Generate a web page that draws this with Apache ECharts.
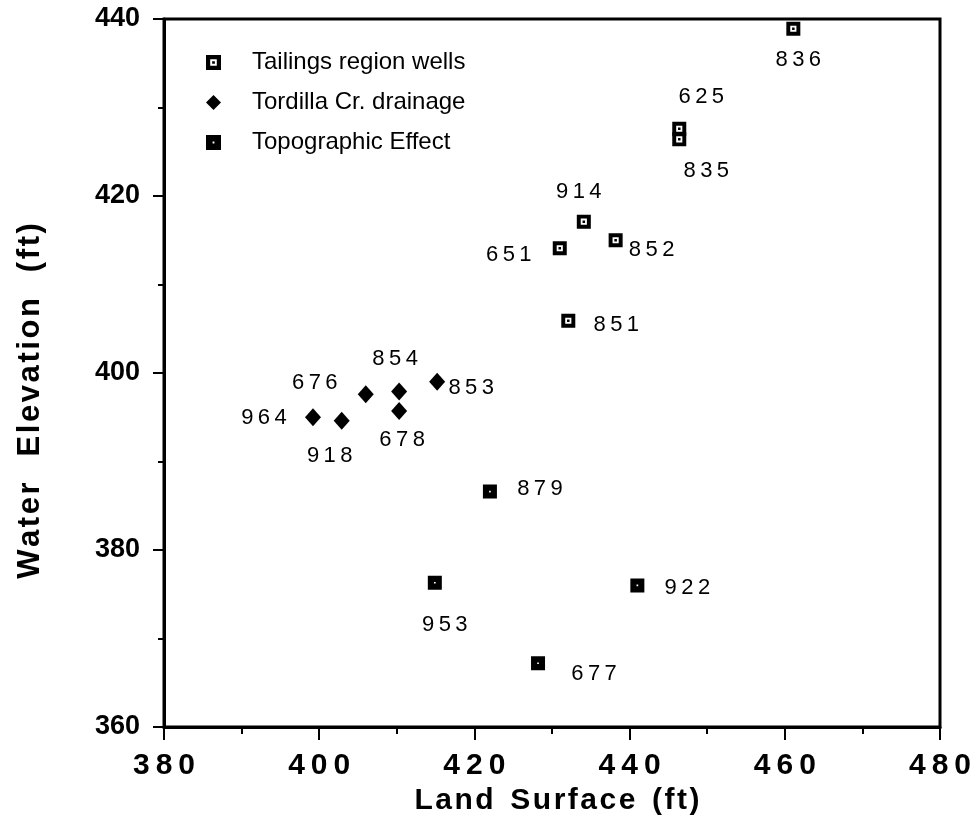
<!DOCTYPE html>
<html>
<head>
<meta charset="utf-8">
<script src="https://cdn.jsdelivr.net/npm/echarts@6/dist/echarts.min.js"></script>
<style>
  html, body { margin: 0; padding: 0; background: #fff; }
  #chart { width: 980px; height: 832px; }
</style>
</head>
<body>
<div id="chart"></div>
<script>
// values
var seriesNames = ['Tailings region wells', 'Tordilla Cr. drainage', 'Topographic Effect'];

var tailingsWells = ['836', '625', '835', '914', '651', '852', '851'];
var tailingsLand  = [461.1, 446.4, 446.4, 434.1, 431.0, 438.2, 432.1];
var tailingsWater = [438.9, 427.6, 426.4, 417.1, 414.1, 415.0, 405.9];

var tordillaWells = ['964', '918', '676', '854', '678', '853'];
var tordillaLand  = [399.2, 402.9, 406.0, 410.3, 410.3, 415.2];
var tordillaWater = [395.0, 394.6, 397.6, 397.9, 395.7, 399.0];

var topoWells = ['879', '953', '922', '677'];
var topoLand  = [422.0, 414.9, 441.0, 428.2];
var topoWater = [386.6, 376.3, 376.0, 367.2];

var xTicks = [380, 400, 420, 440, 460, 480];
var yTicks = [360, 380, 400, 420, 440];

// where each well number sits relative to its marker (px)
var labelOffset = {
    '836': [5, 31], '625': [22, -32], '835': [27, 32], '914': [-5, -30],
    '651': [-51, 7], '852': [36, 10], '851': [48, 4],
    '964': [-49, 1], '918': [-12, 35], '676': [-51, -11], '854': [-4, -33],
    '678': [3, 29], '853': [34, 6],
    '879': [50, -3], '953': [10, 42], '922': [50, 3], '677': [56, 11]
};

var FONT = '"Liberation Sans", Arial, Helvetica, sans-serif';

function spaced(s, sp) {
    return String(s).split('').join(sp);
}

function points(names, xs, ys) {
    return names.map(function (n, i) {
        return {
            name: n,
            value: [xs[i], ys[i]],
            label: { offset: labelOffset[n] }
        };
    });
}

// open square with a dot in the middle
var OPEN_SQ = 'path://M0,0H10V10H0Z M2.8,2.8V7.2H7.2V2.8Z M4.1,4.1H5.9V5.9H4.1Z';
// solid square with a pin-hole
var SOLID_SQ = 'path://M0,0H10V10H0Z M4.4,4.4V5.6H5.6V4.4Z';

var wellLabel = {
    show: true,
    position: 'inside',
    color: '#000',
    fontFamily: FONT,
    fontSize: 22,
    formatter: function (p) { return spaced(p.name, '\u2009'); }
};

var chart = echarts.init(document.getElementById('chart'));

var option = {
    backgroundColor: '#fff',
    animation: false,
    grid: {
        left: 164,
        right: 40,
        top: 19,
        bottom: 105,
        show: true,
        borderColor: '#000',
        borderWidth: 3
    },
    legend: {
        orient: 'vertical',
        left: 201,
        top: 43,
        itemWidth: 15,
        itemHeight: 15,
        itemGap: 11,
        data: seriesNames,
        textStyle: {
            color: '#000',
            fontFamily: FONT,
            fontSize: 24,
            lineHeight: 29,
            padding: [0, 0, 0, 26]
        }
    },
    xAxis: {
        type: 'value',
        min: 380,
        max: 480,
        interval: 20,
        name: spaced('Land', '\u200A') + '  ' + spaced('Surface', '\u200A') + '  ' + spaced('(ft)', '\u200A'),
        nameLocation: 'middle',
        nameGap: 58,
        nameTextStyle: {
            color: '#000',
            fontFamily: FONT,
            fontWeight: 'bold',
            fontSize: 30,
            padding: [0, 0, 0, 10]
        },
        axisLine: { lineStyle: { color: '#000', width: 3 } },
        axisTick: { length: 13, lineStyle: { color: '#000', width: 2 } },
        minorTick: { show: true, splitNumber: 2, length: 7, lineStyle: { color: '#000', width: 2 } },
        splitLine: { show: false },
        axisLabel: {
            margin: 24,
            color: '#000',
            fontFamily: FONT,
            fontWeight: 'bold',
            fontSize: 30,
            formatter: function (v) { return xTicks.indexOf(v) >= 0 ? spaced(v, '\u2009') : ''; }
        }
    },
    yAxis: {
        type: 'value',
        min: 360,
        max: 440,
        interval: 20,
        name: spaced('Water', '\u200A') + '   ' + spaced('Elevation', '\u200A') + '   ' + spaced('(ft)', '\u200A'),
        nameLocation: 'middle',
        nameRotate: 90,
        nameGap: 118,
        nameTextStyle: {
            color: '#000',
            fontFamily: FONT,
            fontWeight: 'bold',
            fontSize: 31,
            padding: [0, 56, 0, 0]
        },
        axisLine: { lineStyle: { color: '#000', width: 3 } },
        axisTick: { length: 11, lineStyle: { color: '#000', width: 2 } },
        minorTick: { show: true, splitNumber: 2, length: 6, lineStyle: { color: '#000', width: 2 } },
        splitLine: { show: false },
        axisLabel: {
            margin: 24,
            color: '#000',
            fontFamily: FONT,
            fontWeight: 'bold',
            fontSize: 27,
            formatter: function (v) { return yTicks.indexOf(v) >= 0 ? String(v) : ''; }
        }
    },
    series: [
        {
            name: seriesNames[0],
            type: 'scatter',
            symbol: OPEN_SQ,
            symbolSize: 14,
            itemStyle: { color: '#000', opacity: 1 },
            label: wellLabel,
            data: points(tailingsWells, tailingsLand, tailingsWater)
        },
        {
            name: seriesNames[1],
            type: 'scatter',
            symbol: 'diamond',
            symbolSize: [16, 18],
            itemStyle: { color: '#000', opacity: 1 },
            label: wellLabel,
            data: points(tordillaWells, tordillaLand, tordillaWater)
        },
        {
            name: seriesNames[2],
            type: 'scatter',
            symbol: SOLID_SQ,
            symbolSize: 14,
            itemStyle: { color: '#000', opacity: 1 },
            label: wellLabel,
            data: points(topoWells, topoLand, topoWater)
        }
    ]
};

chart.setOption(option);
</script>
</body>
</html>
